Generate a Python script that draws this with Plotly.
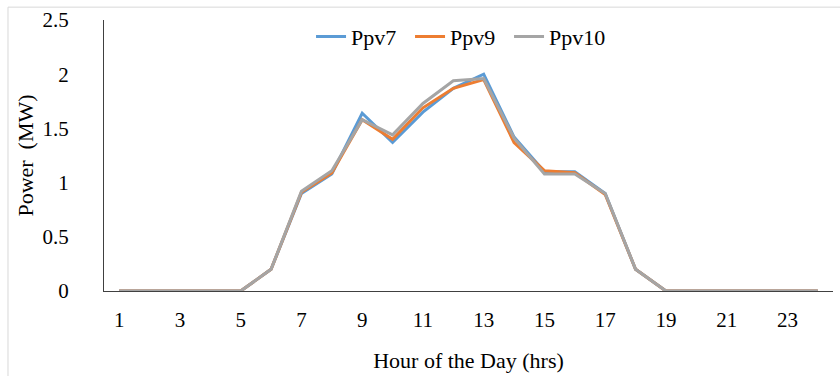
import plotly.graph_objects as go

# Hourly PV output (MW) for three units over one day
hours = list(range(1, 25))
ppv7 = [0, 0, 0, 0, 0, 0.2, 0.9, 1.08, 1.64, 1.37, 1.65, 1.87, 2.0, 1.42, 1.1, 1.1, 0.9, 0.2,
        0, 0, 0, 0, 0, 0]
ppv9 = [0, 0, 0, 0, 0, 0.2, 0.91, 1.09, 1.58, 1.4, 1.69, 1.87, 1.95, 1.37, 1.11, 1.09, 0.89, 0.2,
        0, 0, 0, 0, 0, 0]
ppv10 = [0, 0, 0, 0, 0, 0.2, 0.92, 1.11, 1.58, 1.44, 1.73, 1.94, 1.96, 1.41, 1.08, 1.08, 0.9, 0.2,
         0, 0, 0, 0, 0, 0]
x_ticks = list(range(1, 25, 2))
y_ticks = [0, 0.5, 1, 1.5, 2, 2.5]
y_tick_text = ["0", "0.5", "1", "1.5", "2", "2.5"]

series = [("Ppv7", ppv7, "#5B9BD5"), ("Ppv9", ppv9, "#ED7D31"), ("Ppv10", ppv10, "#A5A5A5")]

serif = "Liberation Serif"


def fnt(size):
    return dict(family=serif, size=size, color="black")


fig = go.Figure()
for name, vals, color in series:
    fig.add_trace(go.Scatter(x=hours, y=vals, mode="lines", name=name,
                             line=dict(color=color, width=3)))

fig.update_layout(
    width=840, height=376,
    margin=dict(l=104, r=7, t=20, b=82),
    paper_bgcolor="white", plot_bgcolor="white",
    font=fnt(21),
    showlegend=True,
    legend=dict(orientation="h", x=0.284, xanchor="left", y=0.938, yanchor="middle",
                font=fnt(22), bgcolor="rgba(0,0,0,0)", itemwidth=30,
                entrywidth=54, entrywidthmode="pixels"),
    xaxis=dict(range=[0.5, 24.5], tickvals=x_ticks, showgrid=False, zeroline=False,
               showline=True, linecolor="#404040", linewidth=1, ticks="",
               tickfont=fnt(21), ticklabelstandoff=10,
               title=dict(text="Hour of the Day (hrs)", font=fnt(22), standoff=21)),
    yaxis=dict(range=[0, 2.5], tickvals=y_ticks, ticktext=y_tick_text, showgrid=False,
               zeroline=False, showline=True, linecolor="#404040", linewidth=1, ticks="",
               tickfont=fnt(21), ticklabelstandoff=30,
               title=dict(text="Power  (MW)", font=fnt(22), standoff=2)),
    shapes=[dict(type="rect", xref="paper", yref="paper",
                 x0=-0.1317, x1=1.02, y0=-0.32, y1=1.0474,
                 line=dict(color="#D9D9D9", width=1), fillcolor="rgba(0,0,0,0)",
                 layer="below")],
)

fig.write_html("out.html")
